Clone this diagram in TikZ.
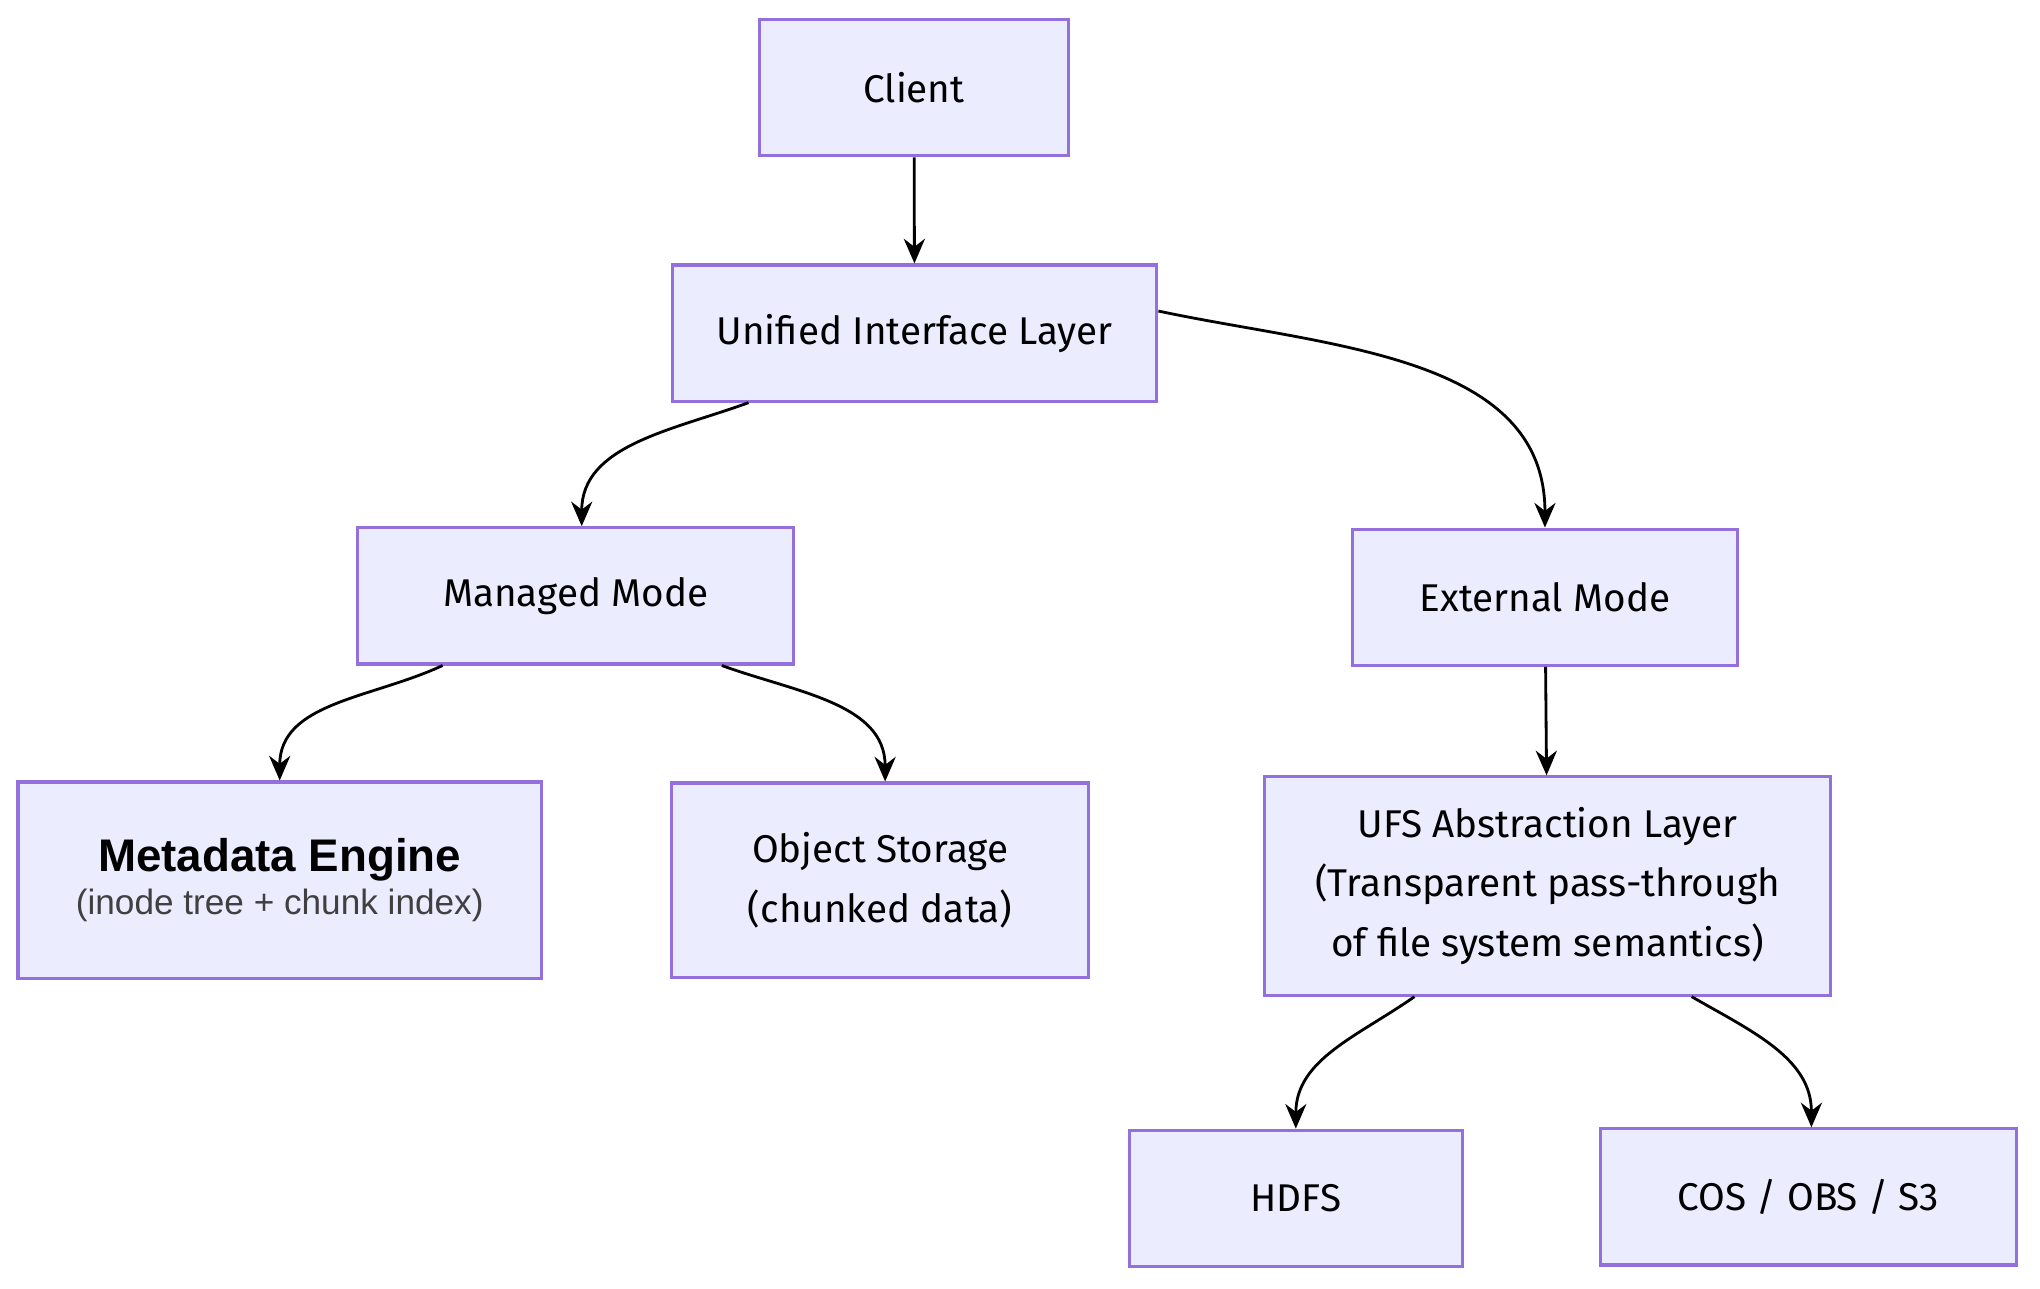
\documentclass[tikz,border=0pt]{standalone}
\usepackage{fontspec}
\setmainfont{Fira Sans}
\newfontfamily\metafont{Liberation Sans}
\usetikzlibrary{arrows.meta}
\definecolor{boxfill}{HTML}{ECECFF}
\definecolor{boxline}{HTML}{9370DB}
\begin{document}
\begin{tikzpicture}[x=0.013cm,y=-0.013cm]
\tikzset{box/.style={draw=boxline,fill=boxfill,line width=0.9pt,minimum height=1.36cm,align=center,
  font=\fontsize{11}{17}\selectfont,inner sep=0pt},
  link/.style={-{Stealth[length=7pt,width=6pt]},line width=0.8pt}}
\useasboundingbox (0,0) rectangle (1568,990);

\node[box,minimum width=3.08cm] (client) at (702.5,67.5) {Client};
\node[box,minimum width=4.84cm] (uni) at (703,256) {Unified Interface Layer};
\node[box,minimum width=4.36cm] (man) at (442.5,458) {Managed Mode};
\node[box,minimum width=3.84cm] (ext) at (1187.5,459) {External Mode};
\node[box,minimum width=5.23cm,minimum height=1.96cm,font=\metafont] (meta) at (215,676.5)
  {{\fontsize{13}{17}\selectfont\bfseries Metadata Engine}\\{\fontsize{10}{17}\selectfont\color{black!75}(inode tree + chunk index)}};
\node[box,minimum width=4.17cm,minimum height=1.94cm] (obj) at (676.5,676.5) {Object Storage\\(chunked data)};
\node[box,minimum width=5.66cm,minimum height=2.18cm] (ufs) at (1189.5,681)
  {UFS Abstraction Layer\\(Transparent pass-through\\of file system semantics)};
\node[box,minimum width=3.33cm] (hdfs) at (996,921) {HDFS};
\node[box,minimum width=4.16cm] (cos) at (1390,920) {COS / OBS / S3};

\draw[link] (client) -- (uni);
\draw[link] ([xshift=-1.66cm]uni.south) to[out=-160,in=90] ([xshift=0.06cm]man.north);
\draw[link] ([yshift=0.22cm]uni.east) to[out=-12,in=90] (ext.north);
\draw[link] ([xshift=-1.33cm]man.south) to[out=-155,in=90] (meta.north);
\draw[link] ([xshift=1.46cm]man.south) to[out=-20,in=90] ([xshift=0.05cm]obj.north);
\draw[link] (ext) -- (ufs);
\draw[link] ([xshift=-1.33cm]ufs.south) to[out=-145,in=90] (hdfs.north);
\draw[link] ([xshift=1.44cm]ufs.south) to[out=-30,in=90] ([xshift=0.03cm]cos.north);
\end{tikzpicture}
\end{document}
